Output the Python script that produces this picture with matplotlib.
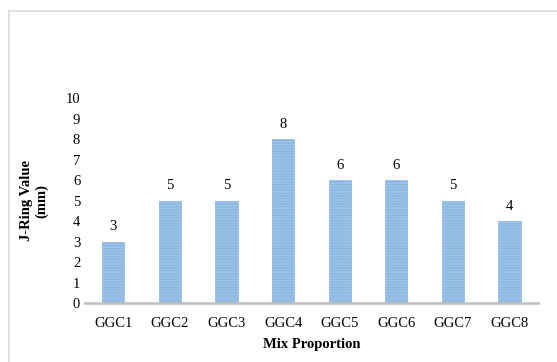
import matplotlib.pyplot as plt
from matplotlib.lines import Line2D

# J-Ring values per mix
mixes = ['GGC1', 'GGC2', 'GGC3', 'GGC4', 'GGC5', 'GGC6', 'GGC7', 'GGC8']
j_ring = [3, 5, 5, 8, 6, 6, 5, 4]

plt.rcParams['font.family'] = ['Liberation Serif', 'DejaVu Serif']
plt.rcParams['hatch.color'] = '#4f90d2'
plt.rcParams['hatch.linewidth'] = 1.2

fig = plt.figure(figsize=(5.57, 3.62), dpi=100)
ax = fig.add_axes([0.1526, 0.163, 0.813, 0.566])

bars = ax.bar(mixes, j_ring, width=0.39, color='#9fc4ea', hatch='------',
              edgecolor='#8fb8e0', linewidth=0.5)
for b, v in zip(bars, j_ring):
    ax.text(b.get_x() + b.get_width() / 2, v + 0.4, str(v),
            ha='center', va='bottom', fontsize=10.5)

ax.set_ylim(0, 10)
ax.set_yticks(range(0, 11))
ax.set_xlim(-0.5, 7.5)
ax.tick_params(length=0, labelsize=10.5)
ax.tick_params(axis='x', pad=10)
for s in ['top', 'right', 'left']:
    ax.spines[s].set_visible(False)
ax.spines['bottom'].set_color('#bfbfbf')
ax.spines['bottom'].set_linewidth(1.8)

ax.set_xlabel('Mix Proportion', fontsize=10.5, fontweight='bold', labelpad=6)
ax.set_ylabel('J-Ring Value\n(mm)', fontsize=10.5, fontweight='bold', labelpad=12)

# chart frame
fig.add_artist(Line2D([9 / 557, 1], [1 - 11 / 362, 1 - 11 / 362],
                      transform=fig.transFigure, color='#d9d9d9', lw=1.2))
fig.add_artist(Line2D([9 / 557, 9 / 557], [0, 1 - 11 / 362],
                      transform=fig.transFigure, color='#d9d9d9', lw=1.2))

fig.savefig('out.png', dpi=100)
